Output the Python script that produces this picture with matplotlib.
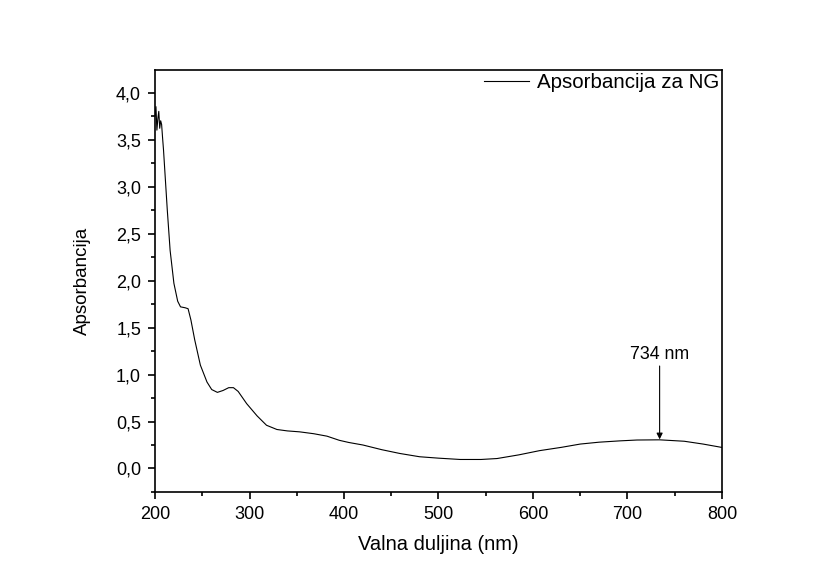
import numpy as np
import matplotlib.pyplot as plt
from matplotlib.ticker import MultipleLocator, FuncFormatter

plt.rcParams['font.family'] = ['Liberation Sans', 'DejaVu Sans']

# wavelength (nm) and absorbance
wavelength = [200, 201, 202, 203, 204, 205, 206, 207, 208, 209, 211, 213, 216, 220,
              224, 227, 232, 235, 238, 242, 248, 255, 260, 266, 272, 278, 283, 288,
              297, 308, 318, 329, 340, 353, 368, 382, 395, 405, 420, 440, 459, 480,
              500, 523, 545, 562, 585, 607, 630, 650, 670, 692, 710, 734, 760, 780, 800]
absorbance = [3.75, 3.85, 3.60, 3.72, 3.80, 3.62, 3.70, 3.66, 3.52, 3.39, 3.07, 2.75,
              2.32, 1.97, 1.78, 1.72, 1.71, 1.70, 1.58, 1.37, 1.10, 0.92, 0.84, 0.81,
              0.83, 0.86, 0.86, 0.82, 0.69, 0.56, 0.46, 0.415, 0.40, 0.39, 0.37, 0.344,
              0.30, 0.277, 0.25, 0.20, 0.16, 0.125, 0.11, 0.096, 0.096, 0.106, 0.145,
              0.19, 0.225, 0.26, 0.28, 0.294, 0.303, 0.305, 0.29, 0.26, 0.224]

peak_wl = 734
peak_abs = 0.31
peak_label = '734 nm'

fig = plt.figure(figsize=(8.21, 5.81), dpi=100)
ax = fig.add_axes([0.1888, 0.1532, 0.6906, 0.7263])

ax.plot(wavelength, absorbance, color='black', lw=0.8, label='Apsorbancija za NG')

ax.annotate(peak_label, xy=(peak_wl, peak_abs), xytext=(peak_wl, 1.12),
            ha='center', va='bottom', fontsize=12.8,
            arrowprops=dict(arrowstyle='-|>', color='black', lw=0.8,
                            mutation_scale=9, shrinkA=0, shrinkB=0))

ax.set_xlim(200, 800)
ax.set_ylim(-0.25, 4.24)
ax.xaxis.set_major_locator(MultipleLocator(100))
ax.xaxis.set_minor_locator(MultipleLocator(50))
ax.yaxis.set_major_locator(MultipleLocator(0.5))
ax.yaxis.set_minor_locator(MultipleLocator(0.25))
ax.yaxis.set_major_formatter(FuncFormatter(lambda v, p: f'{v:.1f}'.replace('.', ',')))

ax.tick_params(which='both', direction='out', top=False, right=False, width=1.2)
ax.tick_params(which='major', length=5, labelsize=13, pad=5)
ax.tick_params(which='minor', length=3)
for s in ax.spines.values():
    s.set_linewidth(1.2)

ax.set_xlabel('Valna duljina (nm)', fontsize=14.5, labelpad=9)
ax.set_ylabel('Apsorbancija', fontsize=13.5, labelpad=18)

ax.legend(loc='upper right', frameon=False, fontsize=14.8, handlelength=2.2,
          handletextpad=0.35, borderaxespad=0.0, borderpad=0.15)

fig.savefig('out.png')
